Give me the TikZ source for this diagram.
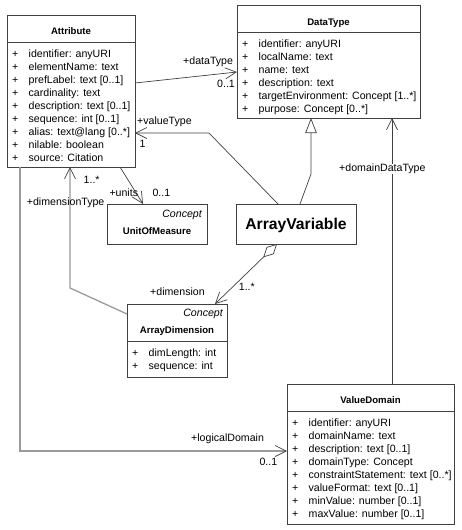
\documentclass[tikz,border=0pt]{standalone}
\usepackage{fontspec}
\setmainfont{Liberation Sans}
\usetikzlibrary{arrows.meta}

\definecolor{boxline}{HTML}{404040}
\definecolor{linegray}{HTML}{9A9A9A}

\newcommand{\rowplus}{\makebox[16.5pt][l]{+}}

\tikzset{
  classbox/.style={draw=boxline, fill=white, line width=0.9pt, anchor=north west, inner sep=0pt, outer sep=0pt},
  classname/.style={font=\fontsize{9.6}{11}\selectfont\bfseries, inner sep=0pt, anchor=base},
  bigname/.style={font=\fontsize{15.7}{18}\selectfont\bfseries, inner sep=0pt, anchor=base},
  stereo/.style={font=\fontsize{10.6}{13}\selectfont\itshape, inner sep=0pt, anchor=base east},
  attr/.style={font=\fontsize{10.6}{13}\selectfont, inner sep=0pt, anchor=base west},
  role/.style={font=\fontsize{10.6}{13}\selectfont, inner sep=0pt, anchor=base west},
  barb/.tip={Straight Barb[length=11pt,width=11pt,line width=0.7pt,color=boxline]},
  assoc/.style={draw=boxline, line width=0.7pt, -barb},
  assocgray/.style={draw=linegray, line width=1.3pt, -barb},
  general/.style={draw=boxline, line width=0.7pt, -{Triangle[open,length=15pt,width=11.5pt,fill=white]}},
  aggreg/.style={draw=boxline, line width=0.7pt, {Diamond[open,length=19pt,width=10pt,fill=white]}-barb}
}

\begin{document}
\begin{tikzpicture}[x=1pt, y=-1pt]
\useasboundingbox (0,0) rectangle (461,530);

% Attribute
\node[classbox, minimum width=128pt, minimum height=152pt] (attribute) at (7,15) {};
\draw[boxline, line width=0.9pt] (attribute.west |- 0,42) -- (attribute.east |- 0,42);
\node[classname] (attributename) at (71,34.5) {Attribute};
\foreach \txt [count=\i] in {{identifier: anyURI}, {elementName: text}, {prefLabel: text [0..1]},
    {cardinality: text}, {description: text [0..1]}, {sequence: int [0..1]},
    {alias: text@lang [0..*]}, {nilable: boolean}, {source: Citation}}
  \node[attr] (attribute-\i) at (12,{44+13*\i}) {\rowplus\txt};

% DataType
\node[classbox, minimum width=183pt, minimum height=113pt] (datatype) at (237,5) {};
\draw[boxline, line width=0.9pt] (datatype.west |- 0,32) -- (datatype.east |- 0,32);
\node[classname] (datatypename) at (328.5,25) {DataType};
\foreach \txt [count=\i] in {{identifier: anyURI}, {localName: text}, {name: text},
    {description: text}, {targetEnvironment: Concept [1..*]}, {purpose: Concept [0..*]}}
  \node[attr] (datatype-\i) at (242,{34+13*\i}) {\rowplus\txt};

% UnitOfMeasure
\node[classbox, minimum width=100pt, minimum height=40pt] (unit) at (107,204) {};
\node[stereo] (unitstereo) at (202,217.5) {Concept};
\node[classname] (unitname) at (157,234) {UnitOfMeasure};

% ArrayVariable
\node[classbox, minimum width=120pt, minimum height=40pt] (arrayvar) at (236,204) {};
\node[bigname] (arrayvarname) at (296,229) {ArrayVariable};

% ArrayDimension
\node[classbox, minimum width=100pt, minimum height=73pt] (arraydim) at (127,304) {};
\draw[boxline, line width=0.9pt] (arraydim.west |- 0,341) -- (arraydim.east |- 0,341);
\node[stereo] (arraydimstereo) at (223,316.5) {Concept};
\node[classname] (arraydimname) at (177,333.5) {ArrayDimension};
\foreach \txt [count=\i] in {{dimLength: int}, {sequence: int}}
  \node[attr] (arraydim-\i) at (132,{343+13*\i}) {\rowplus\txt};

% ValueDomain
\node[classbox, minimum width=167pt, minimum height=140pt] (valuedomain) at (287,384) {};
\draw[boxline, line width=0.9pt] (valuedomain.west |- 0,411) -- (valuedomain.east |- 0,411);
\node[classname] (valuedomainname) at (370.5,403) {ValueDomain};
\foreach \txt [count=\i] in {{identifier: anyURI}, {domainName: text}, {description: text [0..1]},
    {domainType: Concept}, {constraintStatement: text [0..*]}, {valueFormat: text [0..1]},
    {minValue: number [0..1]}, {maxValue: number [0..1]}}
  \node[attr] (valuedomain-\i) at (292,{413+13*\i}) {\rowplus\txt};

% bends
\coordinate (vtbend) at (209,133);
\coordinate (genbend) at (311,174);
\coordinate (dimbend) at (70,288);
\coordinate (ldbend) at (20,451);

% connectors
\draw[assoc] ([yshift=8pt]attribute.east) -- ([yshift=-10.5pt]datatype.west);
\draw[assoc] ([xshift=-18pt]arrayvar.north) -- (vtbend) -- (attribute.east |- vtbend);
\draw[general] ([xshift=4pt]arrayvar.north) -- (genbend) -- (datatype.south -| genbend);
\draw[assoc] ([xshift=21.5pt]valuedomain.north) -- ([xshift=63.5pt]datatype.south);
\draw[assoc] ([xshift=49pt]attribute.south) -- ([xshift=-14pt]unit.north);
\draw[assocgray] ([yshift=26.5pt]arraydim.west) -- (dimbend) -- (attribute.south -| dimbend);
\draw[aggreg] ([xshift=-19pt]arrayvar.south) -- ([xshift=38pt]arraydim.north);
\draw[assocgray] ([xshift=-51pt]attribute.south) -- (ldbend) -- (valuedomain.west |- ldbend);

% roles and multiplicities
\node[role] (dtrole) at (183,64) {+dataType};
\node[role] (dtmult) at (217,87.5) {0..1};
\node[role] (vtrole) at (137,124) {+valueType};
\node[role] (vtmult) at (139.5,147.5) {1};
\node[role] (dimtmult) at (83.5,183.5) {1..*};
\node[role] (dimtrole) at (26.7,205) {+dimensionType};
\node[role] (unitrole) at (109.3,196.7) {+units};
\node[role] (unitmult) at (152.3,196.7) {0..1};
\node[role, fill=white] (ddtrole) at (339,171.7) {+domainDataType};
\node[role] (dimrole) at (150,295) {+dimension};
\node[role] (dimmult) at (238.7,290.7) {1..*};
\node[role] (ldrole) at (191,441) {+logicalDomain};
\node[role] (ldmult) at (259.3,465) {0..1};
\end{tikzpicture}
\end{document}
